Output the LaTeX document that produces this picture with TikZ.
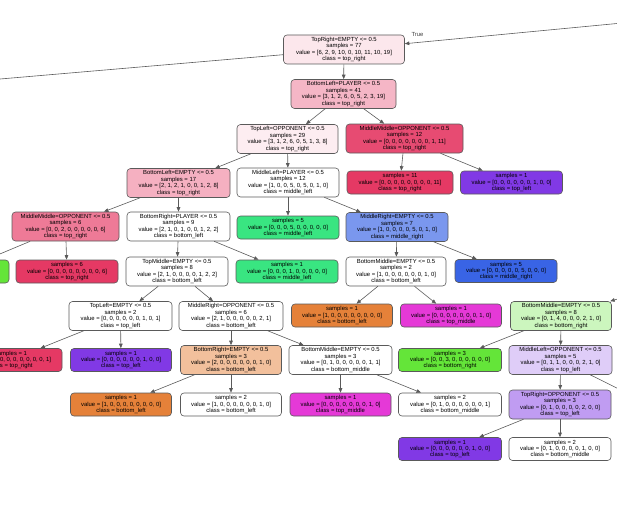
\documentclass[tikz,border=0pt]{standalone}
\usepackage{fontspec}
\setmainfont{Liberation Sans}
\usetikzlibrary{arrows.meta}

% class colours of the tree
\definecolor{cbl}{HTML}{E58139}
\definecolor{cbr}{HTML}{64E539}
\definecolor{cml}{HTML}{39E581}
\definecolor{cmr}{HTML}{3964E5}
\definecolor{ctl}{HTML}{8139E5}
\definecolor{ctm}{HTML}{E539D7}
\definecolor{ctr}{HTML}{E53964}
\definecolor{lineg}{HTML}{5A5A5A}

\tikzset{
  tn/.style={draw=lineg, line width=0.6pt, rounded corners=3.5pt, align=center,
    font=\fontsize{5.9}{6.4}\selectfont, inner sep=1pt, minimum width=102pt},
  split/.style={tn, minimum height=29pt},
  leaf/.style={tn, minimum height=23pt},
  edge/.style={draw=lineg, line width=0.6pt, -{Triangle[length=4.5pt,width=3.6pt]}},
  elabel/.style={font=\fontsize{5.9}{6.4}\selectfont, text=black!75}
}

\begin{document}
\begin{tikzpicture}[x=1pt,y=-1pt]
\useasboundingbox (0,0) rectangle (617,516);
\clip (0,0) rectangle (617,516);

% nodes, row by row
\node[split, minimum width=121pt, fill=ctr!12] (root) at (344,49.5)
  {TopRight=EMPTY <= 0.5\\samples = 77\\value = [6, 2, 9, 10, 0, 10, 11, 10, 19]\\class = top\_right};

\node[split, minimum width=105pt, fill=ctr!37] (blp) at (343.5,94)
  {BottomLeft=PLAYER <= 0.5\\samples = 41\\value = [3, 1, 2, 6, 0, 5, 2, 3, 19]\\class = top\_right};

\node[split, minimum width=101pt, fill=ctr!9] (tlo) at (287.5,139)
  {TopLeft=OPPONENT <= 0.5\\samples = 29\\value = [3, 1, 2, 6, 0, 5, 1, 3, 8]\\class = top\_right};
\node[split, minimum width=117pt, fill=ctr!91] (mmoA) at (404.5,138.5)
  {MiddleMiddle=OPPONENT <= 0.5\\samples = 12\\value = [0, 0, 0, 0, 0, 0, 0, 1, 11]\\class = top\_right};

\node[split, minimum width=103pt, fill=ctr!40] (bleA) at (178.5,183)
  {BottomLeft=EMPTY <= 0.5\\samples = 17\\value = [2, 1, 2, 1, 0, 0, 1, 2, 8]\\class = top\_right};
\node[split, fill=white] (mlpA) at (288,182.5)
  {MiddleLeft=PLAYER <= 0.5\\samples = 12\\value = [1, 0, 0, 5, 0, 5, 0, 1, 0]\\class = middle\_left};
\node[leaf, minimum width=106pt, fill=ctr] (lfA) at (400,182.5)
  {samples = 11\\value = [0, 0, 0, 0, 0, 0, 0, 0, 11]\\class = top\_right};
\node[leaf, fill=ctl] (lfB) at (511.5,182.5)
  {samples = 1\\value = [0, 0, 0, 0, 0, 0, 1, 0, 0]\\class = top\_left};

\node[split, minimum width=107pt, fill=ctr!67] (mmoB) at (65.5,226.5)
  {MiddleMiddle=OPPONENT <= 0.5\\samples = 6\\value = [0, 0, 2, 0, 0, 0, 0, 0, 6]\\class = top\_right};
\node[split, minimum width=103pt, fill=white] (brpA) at (178.5,226.5)
  {BottomRight=PLAYER <= 0.5\\samples = 9\\value = [2, 1, 0, 1, 0, 0, 1, 2, 2]\\class = bottom\_left};
\node[leaf, fill=cml] (lfC) at (288,227.5)
  {samples = 5\\value = [0, 0, 0, 5, 0, 0, 0, 0, 0]\\class = middle\_left};
\node[split, fill=cmr!67] (mreA) at (397,227)
  {MiddleRight=EMPTY <= 0.5\\samples = 7\\value = [1, 0, 0, 0, 0, 5, 0, 1, 0]\\class = middle\_right};

\node[leaf, fill=cbr] (lfD) at (-42,271.5)
  {samples = 2\\value = [0, 0, 2, 0, 0, 0, 0, 0, 0]\\class = bottom\_right};
\node[leaf, fill=ctr] (lfE) at (67,271.5)
  {samples = 6\\value = [0, 0, 0, 0, 0, 0, 0, 0, 6]\\class = top\_right};
\node[split, fill=white] (tmeA) at (177,271.5)
  {TopMiddle=EMPTY <= 0.5\\samples = 8\\value = [2, 1, 0, 0, 0, 0, 1, 2, 2]\\class = bottom\_left};
\node[leaf, fill=cml] (lfF) at (287,271.5)
  {samples = 1\\value = [0, 0, 0, 1, 0, 0, 0, 0, 0]\\class = middle\_left};
\node[split, minimum width=100pt, fill=white] (bmeA) at (396,271.5)
  {BottomMiddle=EMPTY <= 0.5\\samples = 2\\value = [1, 0, 0, 0, 0, 0, 0, 1, 0]\\class = bottom\_left};
\node[leaf, fill=cmr] (lfG) at (506,271)
  {samples = 5\\value = [0, 0, 0, 0, 0, 5, 0, 0, 0]\\class = middle\_right};

\node[split, minimum width=103pt, fill=white] (tleA) at (120.5,316)
  {TopLeft=EMPTY <= 0.5\\samples = 2\\value = [0, 0, 0, 0, 0, 0, 1, 0, 1]\\class = top\_left};
\node[split, minimum width=104pt, fill=white] (mroA) at (231,316)
  {MiddleRight=OPPONENT <= 0.5\\samples = 6\\value = [2, 1, 0, 0, 0, 0, 0, 2, 1]\\class = bottom\_left};
\node[leaf, minimum width=101pt, fill=cbl] (lfH) at (342,315.5)
  {samples = 1\\value = [1, 0, 0, 0, 0, 0, 0, 0, 0]\\class = bottom\_left};
\node[leaf, minimum width=101pt, fill=ctm] (lfI) at (451,315.5)
  {samples = 1\\value = [0, 0, 0, 0, 0, 0, 0, 1, 0]\\class = top\_middle};
\node[split, minimum width=101pt, fill=cbr!33] (bmeB) at (561,316)
  {BottomMiddle=EMPTY <= 0.5\\samples = 8\\value = [0, 1, 4, 0, 0, 0, 2, 1, 0]\\class = bottom\_right};

\node[leaf, fill=ctr] (lfJ) at (11,360)
  {samples = 1\\value = [0, 0, 0, 0, 0, 0, 0, 0, 1]\\class = top\_right};
\node[leaf, minimum width=101pt, fill=ctl] (lfK) at (121,360)
  {samples = 1\\value = [0, 0, 0, 0, 0, 0, 1, 0, 0]\\class = top\_left};
\node[split, minimum width=101pt, fill=cbl!50] (breA) at (231,360)
  {BottomRight=EMPTY <= 0.5\\samples = 3\\value = [2, 0, 0, 0, 0, 0, 0, 1, 0]\\class = bottom\_left};
\node[split, minimum width=103pt, fill=white] (bmeC) at (340.5,360)
  {BottomMiddle=EMPTY <= 0.5\\samples = 3\\value = [0, 1, 0, 0, 0, 0, 0, 1, 1]\\class = bottom\_middle};
\node[leaf, minimum width=103pt, fill=cbr] (lfL) at (450,360)
  {samples = 3\\value = [0, 0, 3, 0, 0, 0, 0, 0, 0]\\class = bottom\_right};
\node[split, minimum width=103pt, fill=ctl!25] (mloA) at (560.5,360)
  {MiddleLeft=OPPONENT <= 0.5\\samples = 5\\value = [0, 1, 1, 0, 0, 0, 2, 1, 0]\\class = top\_left};

\node[leaf, minimum width=101pt, fill=cbl] (lfM) at (121,404.5)
  {samples = 1\\value = [1, 0, 0, 0, 0, 0, 0, 0, 0]\\class = bottom\_left};
\node[leaf, minimum width=101pt, fill=white] (lfN) at (231,404.5)
  {samples = 2\\value = [1, 0, 0, 0, 0, 0, 0, 1, 0]\\class = bottom\_left};
\node[leaf, minimum width=101pt, fill=ctm] (lfO) at (340.5,404.5)
  {samples = 1\\value = [0, 0, 0, 0, 0, 0, 0, 1, 0]\\class = top\_middle};
\node[leaf, minimum width=103pt, fill=white] (lfP) at (450,404.5)
  {samples = 2\\value = [0, 1, 0, 0, 0, 0, 0, 0, 1]\\class = bottom\_middle};
\node[split, fill=ctl!50] (troA) at (560,404.5)
  {TopRight=OPPONENT <= 0.5\\samples = 3\\value = [0, 1, 0, 0, 0, 0, 2, 0, 0]\\class = top\_left};

\node[leaf, minimum width=103pt, fill=ctl] (lfQ) at (450,449)
  {samples = 1\\value = [0, 0, 0, 0, 0, 0, 1, 0, 0]\\class = top\_left};
\node[leaf, fill=white] (lfR) at (560,449)
  {samples = 2\\value = [0, 1, 0, 0, 0, 0, 1, 0, 0]\\class = bottom\_middle};

% ends of connectors whose other node lies outside the frame
\coordinate (upR) at (700,15.6);
\coordinate (farL) at (-100,87.6);
\coordinate (midR) at (709,271.5);
\coordinate (lowR) at (650,404.5);

% connectors
\draw[edge] (upR) -- (root);
\node[elabel, anchor=west] (truelbl) at (408,35) {True};
\draw[edge] (root) -- (farL);
\draw[edge] (root) -- (blp);
\draw[edge] (blp) -- (tlo);
\draw[edge] (blp) -- (mmoA);
\draw[edge] (tlo) -- (bleA);
\draw[edge] (tlo) -- (mlpA);
\draw[edge] (mmoA) -- (lfA);
\draw[edge] (mmoA) -- (lfB);
\draw[edge] (bleA) -- (mmoB);
\draw[edge] (bleA) -- (brpA);
\draw[edge] (mlpA) -- (lfC);
\draw[edge] (mlpA) -- (mreA);
\draw[edge] (mmoB) -- (lfD);
\draw[edge] (mmoB) -- (lfE);
\draw[edge] (brpA) -- (tmeA);
\draw[edge] (brpA) -- (lfF);
\draw[edge] (mreA) -- (bmeA);
\draw[edge] (mreA) -- (lfG);
\draw[edge] (tmeA) -- (tleA);
\draw[edge] (tmeA) -- (mroA);
\draw[edge] (bmeA) -- (lfH);
\draw[edge] (bmeA) -- (lfI);
\draw[edge] (midR) -- (bmeB);
\draw[edge] (tleA) -- (lfJ);
\draw[edge] (tleA) -- (lfK);
\draw[edge] (mroA) -- (breA);
\draw[edge] (mroA) -- (bmeC);
\draw[edge] (bmeB) -- (lfL);
\draw[edge] (bmeB) -- (mloA);
\draw[edge] (breA) -- (lfM);
\draw[edge] (breA) -- (lfN);
\draw[edge] (bmeC) -- (lfO);
\draw[edge] (bmeC) -- (lfP);
\draw[edge] (mloA) -- (troA);
\draw[edge] (mloA) -- (lowR);
\draw[edge] (troA) -- (lfQ);
\draw[edge] (troA) -- (lfR);
\end{tikzpicture}
\end{document}
